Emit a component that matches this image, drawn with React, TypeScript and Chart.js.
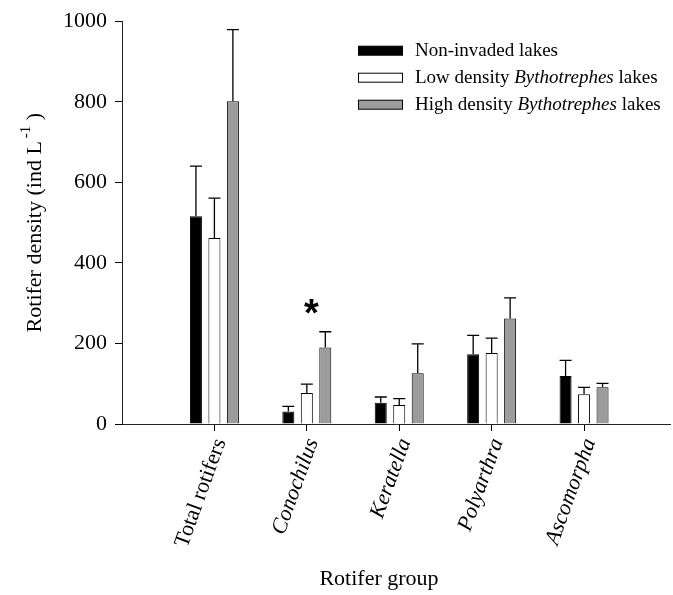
import { useEffect, useRef } from 'react';
import { Chart, registerables } from 'chart.js';

Chart.register(...registerables);

// ---- data ----
const categories = ['Total rotifers', 'Conochilus', 'Keratella', 'Polyarthra', 'Ascomorpha'];
const italicCategory = [false, true, true, true, true];

const nonInvaded = [516, 31, 53, 173, 119];
const nonInvadedErr = [640, 44, 67, 220, 158];
const lowDensity = [462, 77, 47, 176, 74];
const lowDensityErr = [561, 99, 63, 213, 91];
const highDensity = [801, 190, 126, 262, 91];
const highDensityErr = [979, 229, 199, 313, 101];

const yTicks = [0, 200, 400, 600, 800, 1000];

// legend text: [text, italic]
const legendNonInvaded: [string, boolean][] = [['Non-invaded lakes', false]];
const legendLow: [string, boolean][] = [['Low density ', false], ['Bythotrephes', true], [' lakes', false]];
const legendHigh: [string, boolean][] = [['High density ', false], ['Bythotrephes', true], [' lakes', false]];

const yTitleMain = 'Rotifer density (ind L';
const yTitleSup = '-1';
const yTitleEnd = ' )';
const xTitle = 'Rotifer group';

// significance marker: category index, series index
const sigCategory = 1;
const sigSeries = 2;
const sigMark = '*';

const FONT = '"Liberation Serif", "Times New Roman", serif';
const colors = ['#000000', '#ffffff', '#9c9c9c'];

export default function App() {
  const ref = useRef<HTMLCanvasElement | null>(null);

  useEffect(() => {
    document.body.style.margin = '0';
    const canvas = ref.current;
    if (!canvas) return;

    const seriesValues = [nonInvaded, lowDensity, highDensity];
    const seriesErrors = [nonInvadedErr, lowDensityErr, highDensityErr];
    const legendItems = [legendNonInvaded, legendLow, legendHigh];

    const overlay = {
      id: 'overlay',
      afterDatasetsDraw(chart: any) {
        const ctx = chart.ctx;
        const y = chart.scales.y;
        const area = chart.chartArea;
        ctx.save();
        // error bars
        seriesErrors.forEach((errs, di) => {
          const meta = chart.getDatasetMeta(di);
          meta.data.forEach((bar: any, i: number) => {
            const top = y.getPixelForValue(errs[i]);
            const w = bar.width;
            ctx.strokeStyle = '#000';
            ctx.lineWidth = 1.3;
            ctx.beginPath();
            ctx.moveTo(bar.x, bar.y);
            ctx.lineTo(bar.x, top);
            ctx.moveTo(bar.x - w / 2, top);
            ctx.lineTo(bar.x + w / 2, top);
            ctx.stroke();
          });
        });
        // significance asterisk
        const sigBar: any = chart.getDatasetMeta(sigSeries).data[sigCategory];
        const sx = sigBar.x - 14;
        const sy = y.getPixelForValue(seriesErrors[sigSeries][sigCategory]);
        ctx.fillStyle = '#000';
        ctx.font = 'bold 38px "Liberation Sans", Arial, sans-serif';
        ctx.textAlign = 'center';
        ctx.textBaseline = 'alphabetic';
        ctx.fillText(sigMark, sx, sy - 6);

        // legend
        const boxX = area.right - 312;
        legendItems.forEach((segs, i) => {
          const cy = area.top + 29.5 + i * 27;
          ctx.fillStyle = colors[i];
          ctx.fillRect(boxX, cy - 4.5, 45, 9);
          ctx.strokeStyle = '#000';
          ctx.lineWidth = 1;
          ctx.strokeRect(boxX + 0.5, cy - 4.5, 44, 9);
          let tx = boxX + 57;
          ctx.fillStyle = '#000';
          ctx.textAlign = 'left';
          ctx.textBaseline = 'middle';
          segs.forEach(([t, it]) => {
            ctx.font = `${it ? 'italic ' : ''}19px ${FONT}`;
            ctx.fillText(t, tx, cy);
            tx += ctx.measureText(t).width;
          });
        });

        // y title with superscript
        ctx.save();
        const ycx = 35;
        const ycy = (area.top + area.bottom) / 2;
        ctx.translate(ycx, ycy);
        ctx.rotate(-Math.PI / 2);
        ctx.font = `22px ${FONT}`;
        const wMain = ctx.measureText(yTitleMain).width;
        const wEnd = ctx.measureText(yTitleEnd).width;
        ctx.font = `15px ${FONT}`;
        const wSup = ctx.measureText(yTitleSup).width;
        const total = wMain + 3 + wSup + wEnd;
        let px = -total / 2;
        ctx.textAlign = 'left';
        ctx.textBaseline = 'middle';
        ctx.fillStyle = '#000';
        ctx.font = `22px ${FONT}`;
        ctx.fillText(yTitleMain, px, 0);
        px += wMain + 3;
        ctx.font = `15px ${FONT}`;
        ctx.fillText(yTitleSup, px, -9);
        px += wSup;
        ctx.font = `22px ${FONT}`;
        ctx.fillText(yTitleEnd, px, 0);
        ctx.restore();

        // x title
        ctx.font = `22px ${FONT}`;
        ctx.textAlign = 'center';
        ctx.textBaseline = 'middle';
        ctx.fillStyle = '#000';
        ctx.fillText(xTitle, area.left + area.width * 0.469, chart.height - 16);
        ctx.restore();
      },
    };

    const chart = new Chart(canvas, {
      type: 'bar',
      data: {
        datasets: seriesValues.map((vals, di) => ({
          label: ['Non-invaded lakes', 'Low density Bythotrephes lakes', 'High density Bythotrephes lakes'][di],
          data: vals.map((v, i) => ({ x: i, y: v })),
          backgroundColor: colors[di],
          borderColor: '#000',
          borderWidth: 1,
          categoryPercentage: 0.6,
          barPercentage: 0.65,
        })),
      },
      options: {
        animation: false,
        responsive: true,
        maintainAspectRatio: false,
        layout: { padding: { top: 18, right: 3, left: 0, bottom: 0 } },
        plugins: {
          legend: { display: false },
          tooltip: { enabled: false },
        },
        scales: {
          x: {
            type: 'linear',
            offset: false,
            min: -1,
            max: 4.93,
            afterBuildTicks: (axis: any) => {
              axis.ticks = categories.map((_, i) => ({ value: i }));
            },
            afterFit: (axis: any) => {
              axis.height = 171;
            },
            grid: {
              offset: false,
              drawOnChartArea: false,
              drawTicks: true,
              tickLength: 7,
              color: '#000',
              tickColor: '#000',
            },
            border: { color: '#222', width: 1 },
            ticks: {
              autoSkip: false,
              minRotation: 70,
              maxRotation: 70,
              padding: 4,
              labelOffset: 6,
              color: '#000',
              callback: (v: any) => categories[v as number] ?? '',
              font: (c: any) => ({
                family: FONT,
                size: 22,
                style: italicCategory[c.index] ? 'italic' : 'normal',
              }),
            },
          },
          y: {
            min: 0,
            max: 1000,
            afterBuildTicks: (axis: any) => {
              axis.ticks = yTicks.map((v) => ({ value: v }));
            },
            afterFit: (axis: any) => {
              axis.width = 122;
            },
            grid: {
              drawOnChartArea: false,
              tickLength: 7,
              color: '#000',
              tickColor: '#000',
            },
            border: { color: '#222', width: 1 },
            ticks: {
              padding: 8,
              color: '#000',
              callback: (v: any) => String(v),
              font: { family: FONT, size: 22 },
            },
          },
        },
      },
      plugins: [overlay],
    } as any);

    return () => chart.destroy();
  }, []);

  return (
    <div style={{ width: 673, height: 595, position: 'relative', background: '#fff' }}>
      <canvas ref={ref} />
    </div>
  );
}
